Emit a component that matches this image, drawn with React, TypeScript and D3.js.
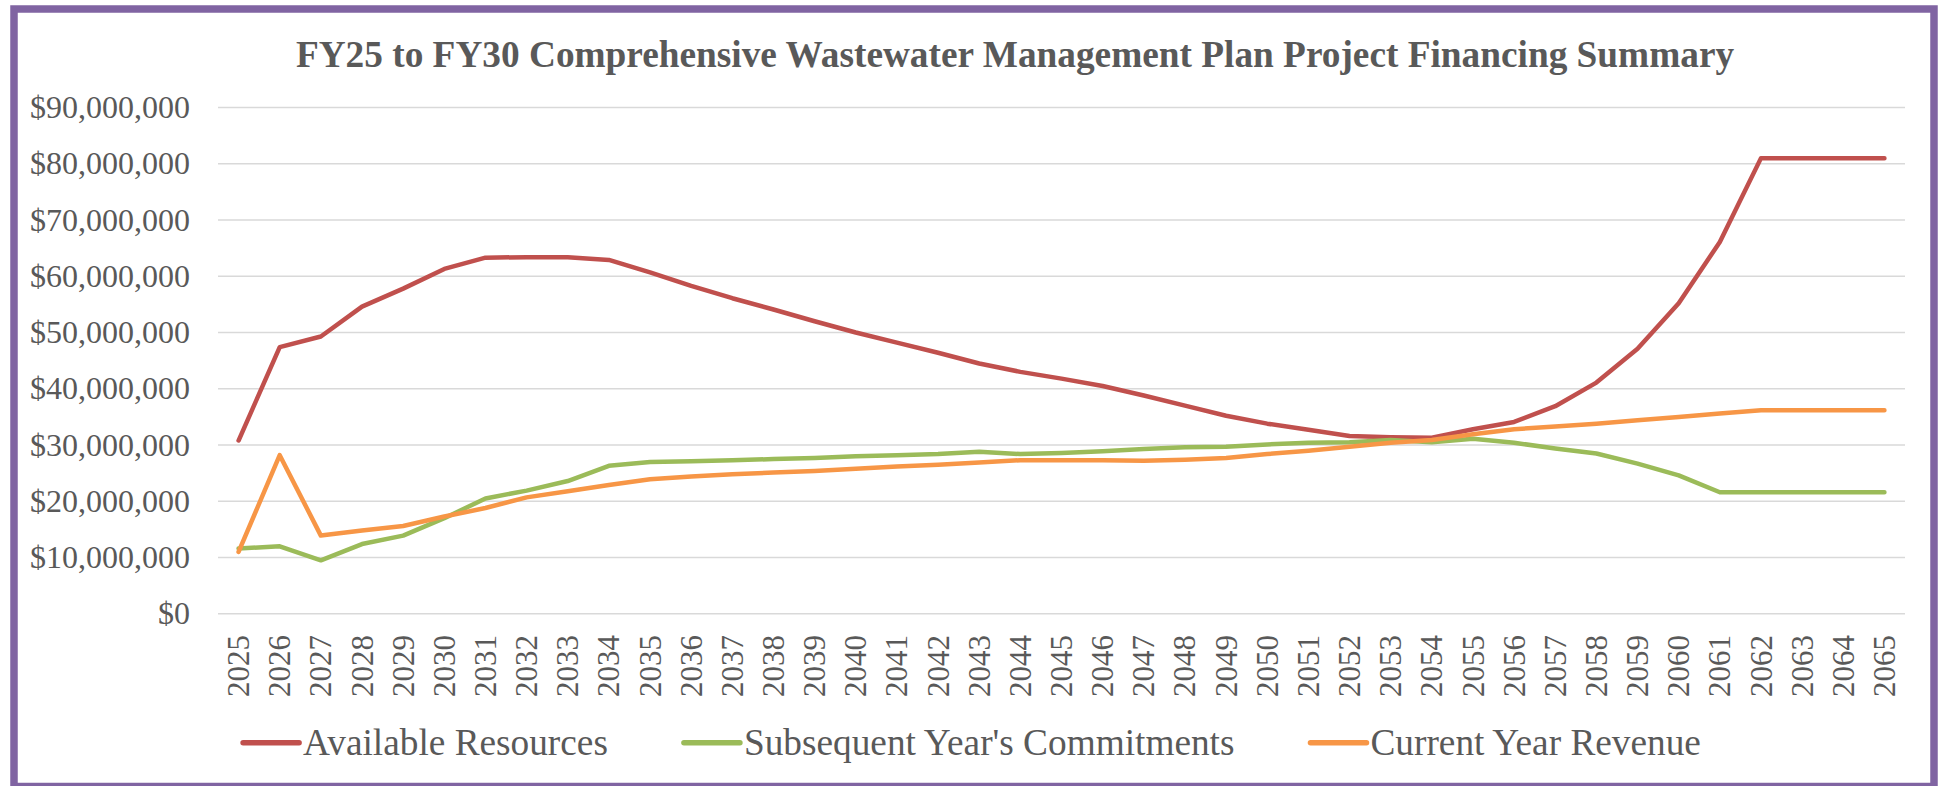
import React, { useRef, useEffect } from "react";
import * as d3 from "d3";

const years = [
  "2025", "2026", "2027", "2028", "2029", "2030", "2031", "2032", "2033", "2034",
  "2035", "2036", "2037", "2038", "2039", "2040", "2041", "2042", "2043", "2044",
  "2045", "2046", "2047", "2048", "2049", "2050", "2051", "2052", "2053", "2054",
  "2055", "2056", "2057", "2058", "2059", "2060", "2061", "2062", "2063", "2064",
  "2065",
];

// values in millions of dollars
const availableResources = [
  30.8, 47.4, 49.3, 54.6, 57.8, 61.3, 63.3, 63.4, 63.4, 62.9,
  60.7, 58.3, 56.1, 54.1, 52.0, 50.0, 48.2, 46.4, 44.5, 43.0,
  41.8, 40.5, 38.8, 37.0, 35.2, 33.8, 32.7, 31.6, 31.4, 31.3,
  32.8, 34.1, 36.9, 41.1, 47.1, 55.2, 66.1, 81.0, 81.0, 81.0,
  81.0,
];
const subsequentCommitments = [
  11.6, 12.0, 9.5, 12.4, 13.9, 17.0, 20.5, 21.9, 23.6, 26.3,
  27.0, 27.1, 27.3, 27.5, 27.7, 28.0, 28.2, 28.4, 28.8, 28.4,
  28.6, 28.9, 29.3, 29.6, 29.7, 30.1, 30.4, 30.5, 30.9, 30.5,
  31.1, 30.4, 29.4, 28.5, 26.7, 24.6, 21.6, 21.6, 21.6, 21.6,
  21.6,
];
const currentRevenue = [
  11.0, 28.2, 13.9, 14.8, 15.6, 17.3, 18.8, 20.7, 21.8, 22.9,
  23.9, 24.4, 24.8, 25.1, 25.4, 25.8, 26.2, 26.5, 26.9, 27.3,
  27.3, 27.3, 27.2, 27.4, 27.7, 28.4, 29.0, 29.7, 30.4, 30.9,
  31.9, 32.8, 33.3, 33.8, 34.4, 35.0, 35.6, 36.2, 36.2, 36.2,
  36.2,
];

const yTicks = [0, 10, 20, 30, 40, 50, 60, 70, 80, 90];
const seriesNames = ["Available Resources", "Subsequent Year's Commitments", "Current Year Revenue"];
const seriesColors = ["#C0504D", "#9BBB59", "#F79646"];

const title = "FY25 to FY30 Comprehensive Wastewater Management Plan Project Financing Summary";

function App() {
  const ref = useRef<SVGSVGElement>(null);

  useEffect(() => {
    const W = 1942;
    const H = 786;
    const svg = d3.select(ref.current).attr("width", W).attr("height", H);
    svg.selectAll("*").remove();
    const font = "'Liberation Serif', 'Times New Roman', serif";
    const grey = "#595959";

    svg.append("rect").attr("width", W).attr("height", H).attr("fill", "#fff");

    // outer border
    svg
      .append("rect")
      .attr("x", 14)
      .attr("y", 9)
      .attr("width", 1920)
      .attr("height", 777.5)
      .attr("fill", "none")
      .attr("stroke", "#8064A2")
      .attr("stroke-width", 7.5);

    svg
      .append("text")
      .attr("x", 1015)
      .attr("y", 67)
      .attr("text-anchor", "middle")
      .style("font-family", font)
      .style("font-weight", "bold")
      .style("font-size", "37.3px")
      .attr("fill", grey)
      .text(title);

    const x = d3.scaleBand().domain(years).range([218, 1905]).paddingInner(0);
    const y = d3.scaleLinear().domain([0, 90]).range([613.8, 107.5]);
    const cx = (d: string) => (x(d) as number) + x.bandwidth() / 2;
    const fmt = d3.format(",");

    // gridlines
    svg
      .append("g")
      .selectAll("line")
      .data(yTicks)
      .join("line")
      .attr("x1", 218)
      .attr("x2", 1905)
      .attr("y1", (d) => y(d))
      .attr("y2", (d) => y(d))
      .attr("stroke", "#D9D9D9")
      .attr("stroke-width", 1.5);

    // y labels
    svg
      .append("g")
      .selectAll("text")
      .data(yTicks)
      .join("text")
      .attr("x", 190)
      .attr("y", (d) => y(d) + 10.5)
      .attr("text-anchor", "end")
      .style("font-family", font)
      .style("font-size", "32px")
      .attr("fill", grey)
      .text((d) => "$" + fmt(d * 1000000));

    // x labels
    svg
      .append("g")
      .selectAll("text")
      .data(years)
      .join("text")
      .attr("transform", (d) => `translate(${cx(d)},635) rotate(-90)`)
      .attr("text-anchor", "end")
      .attr("dy", "0.34em")
      .style("font-family", font)
      .style("font-size", "31px")
      .attr("fill", grey)
      .text((d) => d);

    const allSeries = [availableResources, subsequentCommitments, currentRevenue];
    const line = d3
      .line<number>()
      .x((d, i) => cx(years[i]))
      .y((d) => y(d));

    svg
      .append("g")
      .selectAll("path")
      .data(allSeries)
      .join("path")
      .attr("d", (d) => line(d))
      .attr("fill", "none")
      .attr("stroke", (d, i) => seriesColors[i])
      .attr("stroke-width", 4.5)
      .attr("stroke-linejoin", "round")
      .attr("stroke-linecap", "round");

    // legend, centred in the chart box
    const legend = svg.append("g");
    const items = seriesNames.map((name, i) => {
      const g = legend.append("g");
      g.append("line")
        .attr("x1", 0)
        .attr("x2", 56)
        .attr("y1", 0)
        .attr("y2", 0)
        .attr("stroke", seriesColors[i])
        .attr("stroke-width", 5.5)
        .attr("stroke-linecap", "round");
      const t = g
        .append("text")
        .attr("x", 60)
        .attr("y", 12.5)
        .style("font-family", font)
        .style("font-size", "37.3px")
        .attr("fill", grey)
        .text(name);
      const w = 60 + (t.node() as SVGTextElement).getComputedTextLength();
      return { g, w };
    });
    const gap = 76;
    const total = d3.sum(items, (d) => d.w) + gap * (items.length - 1);
    let pos = 972 - total / 2;
    items.forEach((it) => {
      it.g.attr("transform", `translate(${pos},742.7)`);
      pos += it.w + gap;
    });
  }, []);

  return (
    <div style={{ position: "absolute", left: 0, top: 0 }}>
      <svg ref={ref} style={{ display: "block" }}></svg>
    </div>
  );
}

export default App;
